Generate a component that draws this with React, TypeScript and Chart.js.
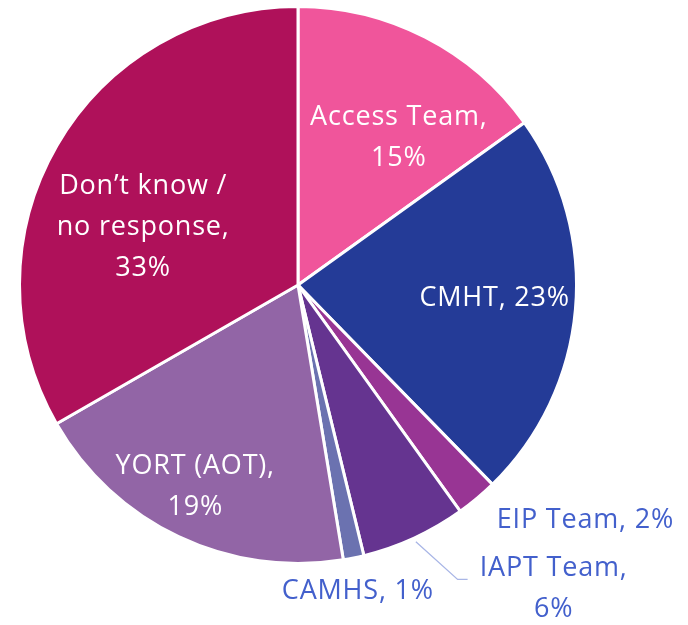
import React, { useEffect, useRef } from "react";
import { Chart, registerables } from "chart.js";
Chart.register(...registerables);

const categories = ["Access Team", "CMHT", "EIP Team", "IAPT Team", "CAMHS", "YORT (AOT)", "Don\u2019t know / no response"];
const values = [15.1, 22.6, 2.4, 6.1, 1.2, 19.3, 33.3];
const percentLabels = ["15%", "23%", "2%", "6%", "1%", "19%", "33%"];
const labelLines = [
  ["Access Team,", percentLabels[0]],
  ["CMHT, " + percentLabels[1]],
  ["EIP Team, " + percentLabels[2]],
  ["IAPT Team,", percentLabels[3]],
  ["CAMHS, " + percentLabels[4]],
  ["YORT (AOT),", percentLabels[5]],
  ["Don\u2019t know /", "no response,", percentLabels[6]],
];
const colors = ["#F0559B", "#243B97", "#983594", "#653490", "#6B72B0", "#9265A6", "#AF115A"];
const textColors = ["#FFFFFF", "#FFFFFF", "#4360CC", "#4360CC", "#4360CC", "#FFFFFF", "#FFFFFF"];
// label block centres relative to pie centre, in units of outer radius
const labelPos = [
  [0.362, -0.53],
  [0.706, 0.047],
  [1.032, 0.846],
  [0.918, 1.09],
  [0.215, 1.1],
  [-0.369, 0.724],
  [-0.556, -0.208],
];
const FONT = "27px 'Open Sans', Lato, sans-serif";
const LINE_H = 41;

const labelPlugin = {
  id: "sliceLabels",
  afterDatasetsDraw(chart: any) {
    const ctx = chart.ctx;
    const meta = chart.getDatasetMeta(0);
    ctx.save();
    ctx.font = FONT;
    try { (ctx as any).letterSpacing = "0.8px"; } catch (e) {}
    ctx.textAlign = "center";
    ctx.textBaseline = "middle";
    meta.data.forEach((arc: any, i: number) => {
      const { x, y, outerRadius, startAngle, endAngle } = arc.getProps(["x", "y", "outerRadius", "startAngle", "endAngle"], true);
      const [fx, fy] = labelPos[i];
      const cx = x + fx * outerRadius;
      const cy = y + fy * outerRadius;
      const lines = labelLines[i];
      ctx.fillStyle = textColors[i];
      lines.forEach((ln, k) => {
        ctx.fillText(ln, cx, cy + (k - (lines.length - 1) / 2) * LINE_H);
      });
      if (i === 3) {
        const mid = (startAngle + endAngle) / 2;
        const sx = x + Math.cos(mid) * (outerRadius + 4);
        const sy = y + Math.sin(mid) * (outerRadius + 4);
        const ey = y + 1.057 * outerRadius;
        const ex = x + 0.609 * outerRadius;
        ctx.strokeStyle = "#A9B6E6";
        ctx.lineWidth = 1.3;
        ctx.beginPath();
        ctx.moveTo(sx, sy);
        ctx.lineTo(ex - 10, ey);
        ctx.lineTo(ex, ey);
        ctx.stroke();
      }
    });
    ctx.restore();
  },
};

export default function App() {
  const ref = useRef<HTMLCanvasElement>(null);
  useEffect(() => {
    if (!ref.current) return;
    const chart = new Chart(ref.current, {
      type: "pie",
      data: {
        labels: categories,
        datasets: [
          {
            data: values,
            backgroundColor: colors,
            borderColor: "#FFFFFF",
            borderWidth: 3,
          },
        ],
      },
      options: {
        responsive: false,
        animation: false,
        devicePixelRatio: 1,
        layout: { padding: { left: 18, right: 110, top: 5, bottom: 60 } },
        plugins: {
          legend: { display: false },
          tooltip: { enabled: false },
          title: { display: false },
        },
      },
      plugins: [labelPlugin],
    });
    return () => chart.destroy();
  }, []);
  return (
    <div style={{ position: "absolute", left: 0, top: 0, width: 688, height: 625, background: "#fff" }}>
      <canvas ref={ref} width={688} height={625} style={{ width: 688, height: 625, display: "block" }} />
    </div>
  );
}
